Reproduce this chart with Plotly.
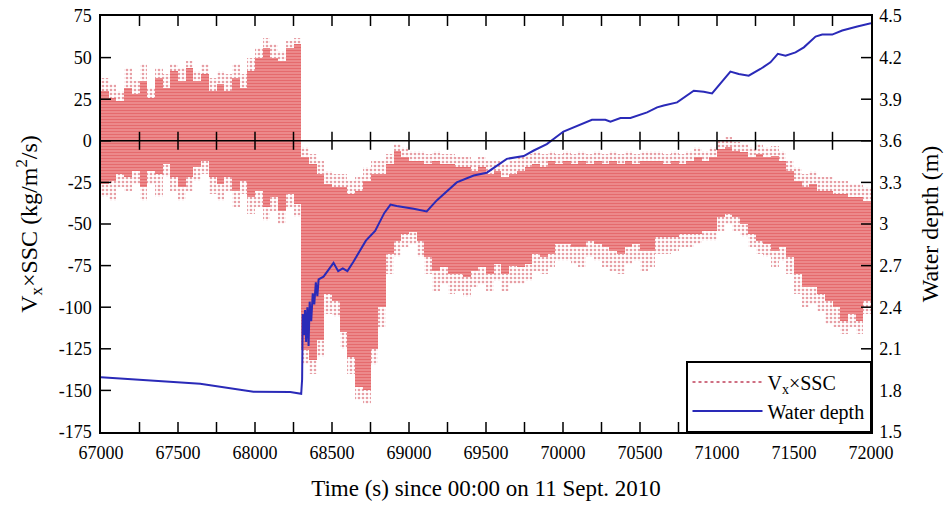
import plotly.graph_objects as go

# ---- data ----
# Vx*SSC, 50-s columns centred at these times (s)
bar_time = list(range(67025, 72000, 50))
# dense part of the oscillation
vx_upper = [30, 26, 24, 32, 28, 36, 26, 38, 32, 42, 36, 44, 36, 40, 30, 34, 30, 38, 32, 42,
            50, 56, 50, 48, 56, 58,
            -10, -14, -20, -26, -28, -28, -32, -30, -24, -20, -20, -14, -6, -10,
            -12, -12, -14, -12, -14, -14, -16, -16, -18, -16, -20, -18, -22, -20, -18, -16, -14, -16, -12, -14,
            -12, -14, -12, -14, -12, -14, -12, -14, -12, -14, -12, -12, -12, -14, -12, -14, -12, -10, -12, -10,
            -5, -4, -6, -7, -10, -8, -10, -9, -12, -18, -24, -28, -26, -30, -30, -32, -32, -34, -34, -36]
vx_lower = [-26, -24, -20, -22, -18, -28, -18, -20, -14, -22, -28, -22, -16, -12, -22, -26, -22, -30, -24, -34,
            -30, -40, -34, -42, -32, -38,
            -126, -132, -120, -92, -96, -115, -130, -148, -150, -125, -100, -68, -60, -56,
            -55, -60, -70, -78, -76, -80, -80, -82, -78, -76, -80, -74, -80, -75, -76, -74, -68, -70, -68, -62,
            -62, -64, -64, -60, -62, -64, -66, -68, -64, -62, -66, -66, -58, -58, -58, -56, -56, -56, -54, -54,
            -46, -44, -46, -50, -56, -60, -62, -66, -64, -70, -80, -88, -88, -92, -96, -100, -108, -104, -108, -96]
# sparse extreme values (dotted fringe)
vx_tip_upper = [38, 34, 30, 44, 36, 46, 32, 44, 40, 46, 44, 48, 42, 46, 38, 42, 40, 46, 40, 50,
                56, 62, 58, 54, 60, 62,
                -4, -8, -12, -18, -20, -20, -24, -22, -16, -12, -12, -8, -2, -4,
                -6, -6, -8, -6, -8, -8, -10, -10, -12, -10, -12, -12, -14, -12, -10, -8, -6, -8, -6, -8,
                -6, -8, -6, -8, -6, -8, -6, -8, -6, -8, -6, -6, -6, -8, -6, -8, -6, -4, -6, -4,
                0, 2, -1, -2, -4, -2, -4, -3, -6, -12, -16, -20, -18, -22, -22, -24, -24, -26, -26, -28]
vx_tip_lower = [-34, -36, -28, -30, -26, -36, -26, -34, -22, -30, -36, -30, -24, -20, -32, -36, -30, -40, -32, -44,
                -40, -48, -42, -50, -40, -46,
                -134, -140, -130, -104, -106, -125, -140, -156, -158, -135, -112, -80, -70, -64,
                -62, -70, -80, -90, -86, -92, -90, -94, -88, -86, -90, -84, -90, -86, -86, -84, -78, -80, -76, -72,
                -72, -74, -76, -70, -72, -76, -78, -80, -74, -72, -78, -76, -68, -68, -66, -64, -64, -62, -60, -60,
                -54, -50, -54, -58, -64, -68, -70, -76, -72, -80, -92, -100, -98, -102, -110, -112, -116, -112, -116, -104]

# Water depth (m)
depth_time = [67000, 67644, 67990, 68229, 68300, 68306, 68310, 68318, 68325, 68332, 68340, 68348,
              68355, 68365, 68375, 68385, 68395, 68405, 68413, 68445, 68510, 68540, 68570, 68600,
              68640, 68680, 68720, 68780, 68840, 68880, 68920, 69030, 69115, 69180, 69250, 69310,
              69420, 69505, 69635, 69745, 69810, 69895, 70003, 70188, 70275, 70308, 70373, 70438,
              70546, 70611, 70654, 70741, 70849, 70914, 70968, 71087, 71141, 71206, 71282, 71347,
              71395, 71445, 71510, 71564, 71640, 71683, 71748, 71813, 71911, 72000]
depth = [1.894, 1.848, 1.790, 1.788, 1.776, 1.880, 2.35, 2.20, 2.38, 2.15, 2.40, 2.12,
         2.44, 2.30, 2.50, 2.42, 2.58, 2.48, 2.60, 2.62, 2.72, 2.66, 2.68, 2.66,
         2.73, 2.80, 2.88, 2.95, 3.08, 3.14, 3.13, 3.11, 3.09, 3.17, 3.24, 3.30,
         3.35, 3.37, 3.47, 3.49, 3.53, 3.576, 3.667, 3.752, 3.752, 3.737, 3.764, 3.764,
         3.805, 3.841, 3.855, 3.877, 3.961, 3.954, 3.942, 4.099, 4.082, 4.070, 4.118, 4.166,
         4.227, 4.214, 4.238, 4.274, 4.352, 4.366, 4.366, 4.395, 4.424, 4.448]

# axis ticks
x_range = [67000, 72000]
x_tick_marks = [67250, 67500, 67750, 68000, 68250, 68500, 68750, 69000, 69250, 69500,
                69750, 70000, 70250, 70500, 70750, 71000, 71250, 71500, 71750]
y_left_range = [-175, 75]
y_left_ticks = [-175, -150, -125, -100, -75, -50, -25, 0, 25, 50, 75]
y_left_labels = ["-175", "-150", "-125", "-100", "-75", "-50", "-25", "0", "25", "50", "75"]
y_right_range = [1.5, 4.5]
y_right_ticks = [1.5, 1.8, 2.1, 2.4, 2.7, 3.0, 3.3, 3.6, 3.9, 4.2, 4.5]
y_right_labels = ["1.5", "1.8", "2.1", "2.4", "2.7", "3", "3.3", "3.6", "3.9", "4.2", "4.5"]

FONT = "Liberation Serif"
RED = "#d8282e"
BLUE = "#2a2ab8"

# plot area in pixels (fixed margins) -> tick length in data units
W, H = 944, 507
M = dict(l=101, r=73, t=16, b=75)
plot_w = W - M["l"] - M["r"]
plot_h = H - M["t"] - M["b"]
TICK_PX = 10
tick_dx = TICK_PX * (x_range[1] - x_range[0]) / plot_w
tick_dy = TICK_PX * (y_left_range[1] - y_left_range[0]) / plot_h

fig = go.Figure()

fig.add_trace(go.Bar(
    x=bar_time,
    base=vx_tip_lower,
    y=[u - l for u, l in zip(vx_tip_upper, vx_tip_lower)],
    width=50,
    marker=dict(color="white", line=dict(width=0),
                pattern=dict(shape=".", fgcolor="#d0404c", bgcolor="white", size=4, solidity=0.35)),
    showlegend=False, hoverinfo="skip",
))
fig.add_trace(go.Bar(
    x=bar_time,
    base=vx_lower,
    y=[u - l for u, l in zip(vx_upper, vx_lower)],
    width=50,
    marker=dict(color="#f0a8a8", line=dict(width=0),
                pattern=dict(shape="-", fgcolor=RED, bgcolor="#f2adad", size=3, solidity=0.7)),
    showlegend=False, hoverinfo="skip",
))

# legend entries
fig.add_trace(go.Scatter(x=[None], y=[None], mode="lines", name="V<sub>x</sub>×SSC",
                         line=dict(color="#c0405a", width=1.5, dash="dot")))
fig.add_trace(go.Scatter(x=depth_time, y=depth, mode="lines", name="Water depth",
                         line=dict(color=BLUE, width=2), yaxis="y2"))

# inside tick marks built from the tick lists (bottom, top, zero line crossing, left, right)
tx, ty = [], []
for v in x_tick_marks:
    tx += [v, v, None, v, v, None, v, v, None]
    ty += [y_left_range[0], y_left_range[0] + tick_dy, None,
           y_left_range[1], y_left_range[1] - tick_dy, None,
           -0.9 * tick_dy, 0.9 * tick_dy, None]
for v in y_left_ticks[1:-1]:
    tx += [x_range[0], x_range[0] + tick_dx, None, x_range[1], x_range[1] - tick_dx, None]
    ty += [v, v, None, v, v, None]
fig.add_trace(go.Scatter(x=tx, y=ty, mode="lines", line=dict(color="black", width=1.5),
                         showlegend=False, hoverinfo="skip", connectgaps=False, cliponaxis=False))

# zero line
shapes = [dict(type="line", xref="paper", x0=0, x1=1, yref="y", y0=0, y1=0,
               line=dict(color="black", width=1.5))]

frame = dict(showgrid=False, zeroline=False, showline=True, linecolor="#000000", linewidth=1.5,
             ticks="", automargin=False)

fig.update_layout(
    width=W, height=H,
    margin=M,
    paper_bgcolor="white", plot_bgcolor="white",
    font=dict(family=FONT, size=18, color="black"),
    bargap=0, barmode="overlay",
    showlegend=True,
    shapes=shapes,
    xaxis=dict(**frame, range=x_range, mirror=True, dtick=500, tick0=67000, tickformat="d",
               ticklabelstandoff=4,
               title=dict(text="Time (s) since 00:00 on 11 Sept. 2010", standoff=18,
                          font=dict(family=FONT, size=23))),
    yaxis=dict(**frame, range=y_left_range, tickmode="array", tickvals=y_left_ticks,
               ticktext=y_left_labels, ticklabelstandoff=4,
               title=dict(text="V<sub>x</sub>×SSC (kg/m<sup>2</sup>/s)", standoff=14,
                          font=dict(family=FONT, size=24))),
    yaxis2=dict(**frame, range=y_right_range, tickmode="array", tickvals=y_right_ticks,
                ticktext=y_right_labels, overlaying="y", side="right", ticklabelstandoff=3,
                title=dict(text="Water depth (m)", standoff=20, font=dict(family=FONT, size=24))),
    legend=dict(x=1, y=0, xanchor="right", yanchor="bottom", bgcolor="white",
                bordercolor="black", borderwidth=1.5, itemwidth=70,
                font=dict(family=FONT, size=20), tracegroupgap=0),
)

fig.write_html("out.html")
